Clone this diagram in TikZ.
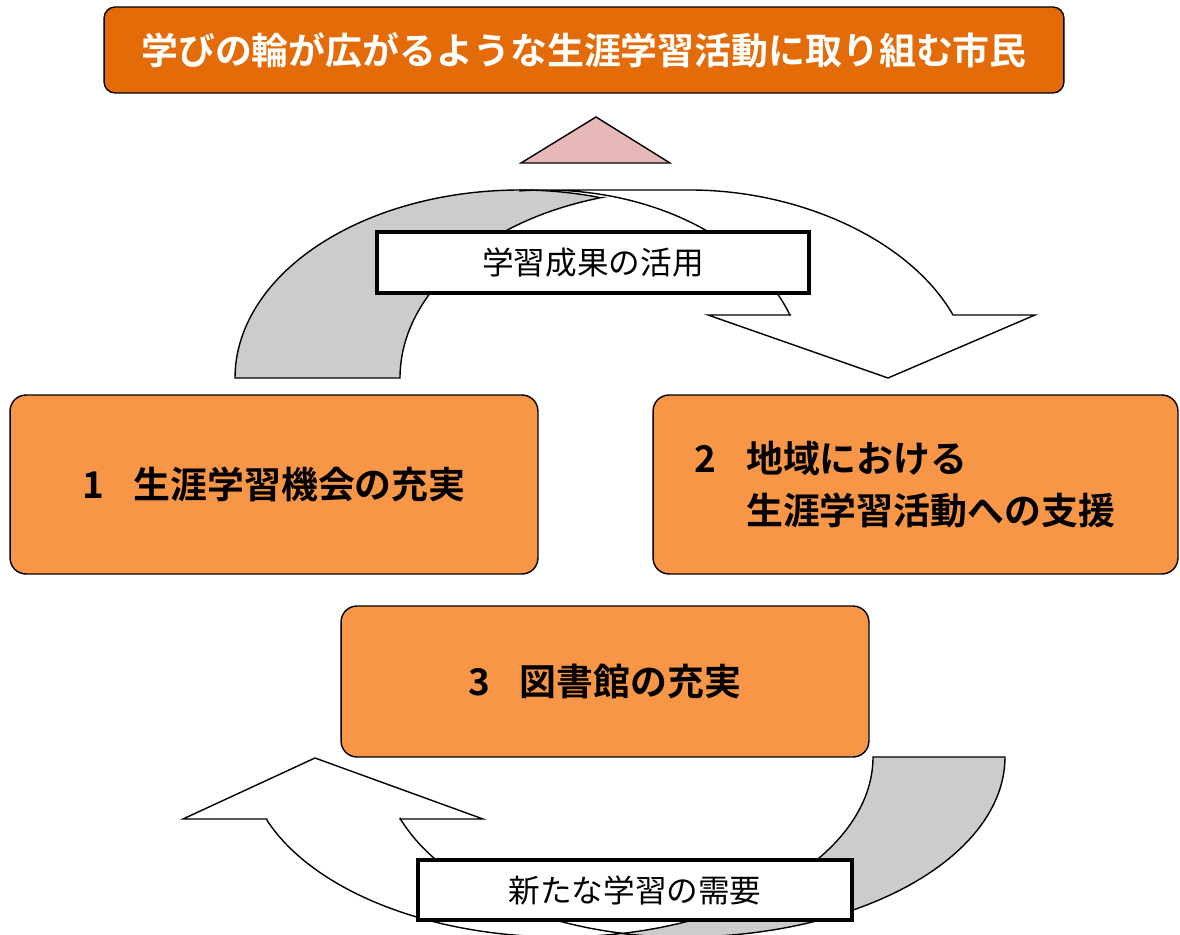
\documentclass[tikz,border=0pt]{standalone}
\usepackage{fontspec}
\setmainfont{Noto Sans CJK JP}[BoldFont={Noto Sans CJK JP Bold}]
\definecolor{titleorange}{RGB}{227,108,9}
\definecolor{boxorange}{RGB}{247,150,70}
\definecolor{arrowgray}{RGB}{204,204,204}
\definecolor{trianglepink}{RGB}{230,185,184}
\tikzset{
  arrowline/.style={draw=black, line width=0.8pt, line join=miter},
  titlebox/.style={draw=black, line width=0.8pt, fill=titleorange, rounded corners=0.22cm,
    inner sep=0pt, text=white, font=\fontsize{21}{26}\selectfont\bfseries},
  orangebox/.style={draw=black, line width=0.8pt, fill=boxorange, rounded corners=0.32cm,
    inner sep=0pt, text=black, font=\fontsize{21}{29.5}\selectfont\bfseries},
  labelbox/.style={draw=black, line width=1.8pt, fill=white, inner sep=0pt,
    font=\fontsize{18}{22}\selectfont},
}
\begin{document}
\begin{tikzpicture}[x=0.02cm, y=-0.02cm]
\useasboundingbox (0,0) rectangle (1180,935);
\clip (0,0) rectangle (1180,935);

% ---- upper curved arrow ----
\draw[arrowline, fill=arrowgray]
  plot[domain=180:73.55, samples=80, variable=\t] ({520+285*cos(\t)}, {378-188*sin(\t)})
  -- plot[domain=106.45:180, samples=80, variable=\t] ({680+280*cos(\t)}, {378-188*sin(\t)})
  -- cycle;
\draw[arrowline, fill=white]
  (520,190) -- (690,190) .. controls (800,190) and (910,240) .. (953,315)
  -- (1035,315) -- (888,378) -- (708,315) -- (790,315)
  -- plot[domain=19.57:95.5, samples=80, variable=\t] ({545+260*cos(\t)}, {378-188*sin(\t)})
  -- cycle;
\node[labelbox, minimum width=8.64cm, minimum height=1.22cm] (use) at (593,262.5) {学習成果の活用};

% ---- triangle ----
\draw[arrowline, fill=trianglepink] (521,163) -- (596,117) -- (670,163) -- cycle;

% ---- title ----
\node[titlebox, minimum width=19.2cm, minimum height=1.72cm] (title) at (584,50)
  {学びの輪が広がるような生涯学習活動に取り組む市民};

% ---- orange boxes ----
\node[orangebox, minimum width=10.56cm, minimum height=3.58cm] (box1) at (274,484.5)
  {1\hspace{0.8em}生涯学習機会の充実};
\node[orangebox, minimum width=10.5cm, minimum height=3.58cm, align=left] (box2) at (915.5,484.5)
  {2\hspace{0.8em}地域における\\\hphantom{2\hspace{0.8em}}生涯学習活動への支援\hspace*{0.42cm}};
\node[orangebox, minimum width=10.56cm, minimum height=3.02cm] (box3) at (605,681.5)
  {3\hspace{0.8em}図書館の充実};

% ---- lower curved arrow ----
\draw[arrowline, fill=arrowgray]
  (873,757) -- (1005,757)
  -- plot[domain=0:101.1, samples=80, variable=\t] ({684+321*cos(\t)}, {757+180*sin(\t)})
  -- plot[domain=78.6:0, samples=80, variable=\t] ({560+313*cos(\t)}, {757+180*sin(\t)})
  -- cycle;
\draw[arrowline, fill=white]
  (400,819) -- (483,819) -- (315,758) -- (183,819) -- (267,819)
  -- plot[domain=159.4:78.6, samples=80, variable=\t] ({560+313*cos(\t)}, {757+180*sin(\t)})
  -- plot[domain=101.7:160, samples=80, variable=\t] ({683+301*cos(\t)}, {757+180*sin(\t)})
  -- cycle;
\node[labelbox, minimum width=8.68cm, minimum height=1.2cm] (need) at (635,890) {新たな学習の需要};
\end{tikzpicture}
\end{document}
